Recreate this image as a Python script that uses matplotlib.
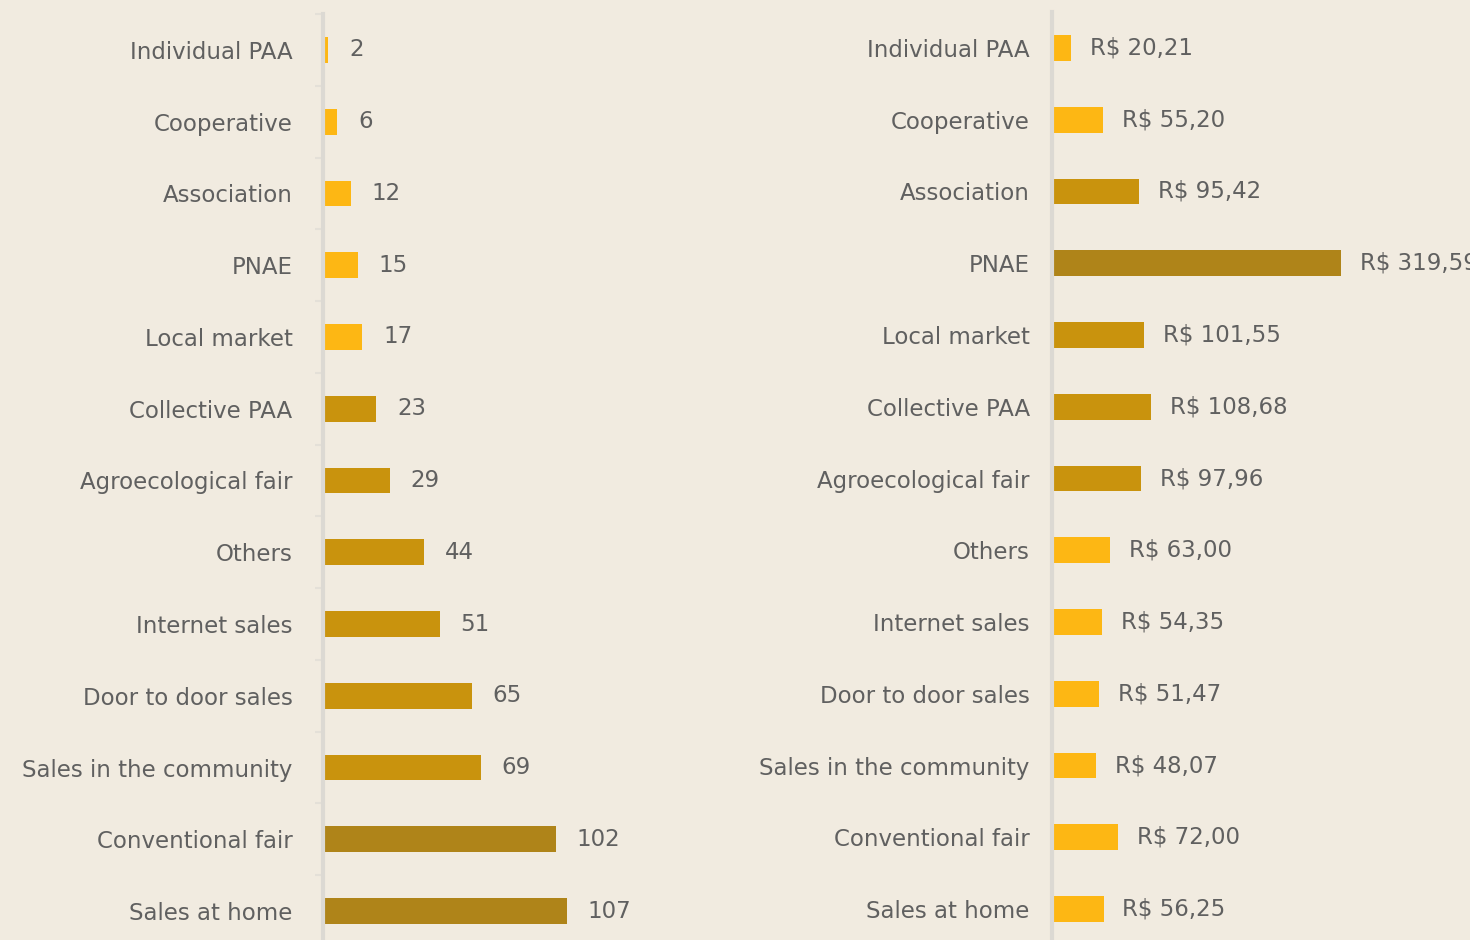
import matplotlib.pyplot as plt
import numpy as np

channels = ["Individual PAA", "Cooperative", "Association", "PNAE", "Local market",
            "Collective PAA", "Agroecological fair", "Others", "Internet sales",
            "Door to door sales", "Sales in the community", "Conventional fair",
            "Sales at home"]
counts = [2, 6, 12, 15, 17, 23, 29, 44, 51, 65, 69, 102, 107]
prices = [20.21, 55.20, 95.42, 319.59, 101.55, 108.68, 97.96, 63.00, 54.35,
          51.47, 48.07, 72.00, 56.25]
price_labels = ["R$ 20,21", "R$ 55,20", "R$ 95,42", "R$ 319,59", "R$ 101,55",
                "R$ 108,68", "R$ 97,96", "R$ 63,00", "R$ 54,35", "R$ 51,47",
                "R$ 48,07", "R$ 72,00", "R$ 56,25"]
count_shade = [0, 0, 0, 0, 0, 1, 1, 1, 1, 1, 1, 2, 2]
price_shade = [0, 0, 1, 2, 1, 1, 1, 0, 0, 0, 0, 0, 0]

shades = ["#FDB714", "#C9930D", "#AF8419"]
bg = "#F1EBE0"
text_col = "#606060"

fig = plt.figure(figsize=(14.7, 9.4), dpi=100, facecolor=bg)
ax1 = fig.add_axes([323 / 1470, -0.0074, 341 / 1470, 0.9925])
ax2 = fig.add_axes([1052 / 1470, -0.0053, 418 / 1470, 0.9925])

y = np.arange(len(channels))


def draw(ax, vals, shade, labels, xmax, pad, label_pad):
    ax.set_facecolor(bg)
    ax.barh(y, vals, height=0.36, color=[shades[s] for s in shade], left=0.8 * xmax / 341)
    for i, v in enumerate(vals):
        ax.text(v + pad, i, labels[i], va="center", ha="left", fontsize=16.5,
                color=text_col, clip_on=False)
    ax.set_ylim(len(channels) - 0.5, -0.5)
    ax.set_xlim(0, xmax)
    ax.set_yticks(y)
    ax.set_yticklabels(channels, fontsize=16.5, color=text_col)
    ax.tick_params(axis="y", length=0, pad=label_pad)
    ax.set_xticks([])
    for s in ["top", "right", "bottom"]:
        ax.spines[s].set_visible(False)
    ax.spines["left"].set_color("#dcd9d3")
    ax.spines["left"].set_linewidth(3)


draw(ax1, counts, count_shade, [str(c) for c in counts], 150, 9.5, 22)
draw(ax2, prices, price_shade, price_labels, 464, 22, 16)

ax1.set_yticks(np.arange(len(channels)) - 0.5, minor=True)
ax1.tick_params(axis="y", which="minor", length=6, width=1.5, color="#e4e0d8")

fig.savefig("out.png", dpi=100, facecolor=bg)
